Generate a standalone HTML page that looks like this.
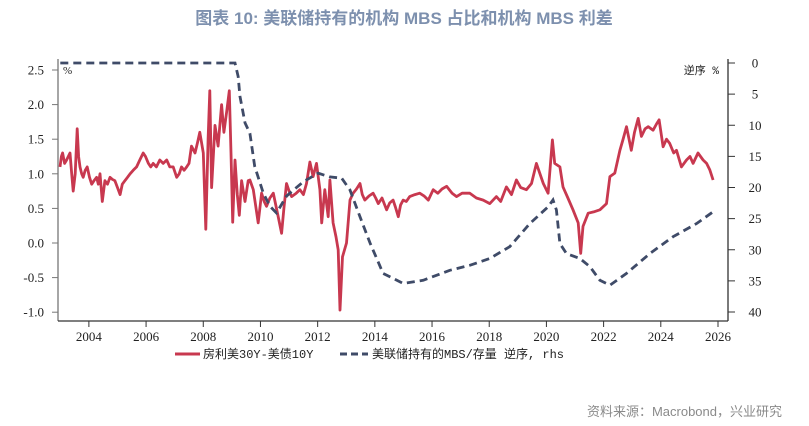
<!DOCTYPE html>
<html><head><meta charset="utf-8"><style>
body{margin:0;background:#fff;width:809px;height:426px;overflow:hidden;font-family:"Liberation Sans","Noto Sans CJK SC",sans-serif}
svg{display:block}
</style></head><body>
<svg id="c" width="809" height="426">
<text x="404" y="24" text-anchor="middle" font-size="17" font-weight="bold" fill="#7d90ae" font-family="Liberation Sans, Noto Sans CJK SC, sans-serif">图表 10: 美联储持有的机构 MBS 占比和机构 MBS 利差</text>
<text x="782" y="416" text-anchor="end" font-size="13" fill="#8a8a8a" font-family="Liberation Sans, Noto Sans CJK SC, sans-serif">资料来源：Macrobond，兴业研究</text>
<g id="axes"></g><g id="marks"></g>
<g font-family="Liberation Mono, Noto Sans CJK SC, monospace" font-size="12" fill="#222">
<line x1="175" y1="354" x2="200" y2="354" stroke="#c8384f" stroke-width="3"/>
<text x="203" y="358">房利美30Y-美债10Y</text>
<line x1="340" y1="354" x2="368" y2="354" stroke="#3f4b68" stroke-width="3" stroke-dasharray="7,4"/>
<text x="372" y="358">美联储持有的MBS/存量 逆序, rhs</text>
</g>
</svg>
<script>
const redYears=[2002.99,2003.04,2003.08,2003.15,2003.22,2003.28,2003.34,2003.40,2003.45,2003.52,2003.59,2003.64,2003.69,2003.75,2003.80,2003.87,2003.94,2004.02,2004.10,2004.18,2004.27,2004.33,2004.39,2004.47,2004.56,2004.65,2004.74,2004.82,2004.91,2005.00,2005.09,2005.17,2005.26,2005.35,2005.44,2005.55,2005.67,2005.78,2005.90,2005.98,2006.08,2006.16,2006.25,2006.36,2006.48,2006.60,2006.72,2006.83,2006.95,2007.07,2007.16,2007.24,2007.33,2007.42,2007.50,2007.59,2007.71,2007.80,2007.88,2008.00,2008.09,2008.17,2008.23,2008.29,2008.41,2008.52,2008.64,2008.72,2008.82,2008.91,2008.97,2009.03,2009.11,2009.19,2009.26,2009.34,2009.46,2009.57,
2009.63,2009.75,2009.92,2010.04,2010.13,2010.21,2010.33,2010.45,2010.62,2010.74,2010.82,2010.91,2011.00,2011.09,2011.25,2011.38,2011.50,2011.61,2011.73,2011.84,2011.96,2012.08,2012.14,2012.25,2012.37,2012.43,2012.54,2012.64,2012.72,2012.78,2012.87,2013.01,2013.13,2013.24,2013.36,2013.48,2013.56,2013.65,2013.80,2013.94,2014.03,2014.12,2014.25,2014.41,2014.52,2014.64,2014.72,2014.82,2014.90,2014.99,2015.10,2015.22,2015.40,2015.57,2015.72,2015.87,2016.04,2016.20,2016.35,2016.51,2016.70,2016.86,2017.05,2017.32,2017.55,2017.79,2018.02,2018.25,2018.40,
2018.60,2018.78,2018.95,2019.10,2019.30,2019.48,2019.65,2019.89,2020.06,2020.21,2020.29,2020.47,2020.58,2020.75,2020.93,2021.11,2021.20,2021.28,2021.46,2021.65,2021.87,2022.10,2022.22,2022.39,2022.57,2022.68,2022.80,2022.97,2023.08,2023.21,2023.32,2023.45,2023.56,2023.73,2023.85,2023.94,2024.08,2024.20,2024.31,2024.45,2024.55,2024.72,2024.90,2025.02,2025.13,2025.30,2025.48,2025.60,2025.71,2025.83];
const redValues=[1.1,1.25,1.3,1.15,1.2,1.25,1.3,1.0,0.75,1.0,1.65,1.25,1.1,1.0,0.95,1.05,1.1,0.95,0.85,0.9,0.95,0.85,1.0,0.6,0.9,0.85,0.95,0.92,0.9,0.8,0.7,0.85,0.9,0.95,1.0,1.05,1.1,1.2,1.3,1.25,1.15,1.1,1.15,1.1,1.2,1.15,1.2,1.1,1.1,0.95,1.0,1.1,1.05,1.1,1.15,1.4,1.3,1.45,1.6,1.3,0.2,1.5,2.2,0.8,1.7,1.4,2.0,1.6,1.9,2.2,1.3,0.3,1.2,0.7,0.4,0.9,0.6,0.9,
0.91,0.77,0.29,0.72,0.6,0.53,0.65,0.72,0.38,0.14,0.5,0.86,0.75,0.67,0.72,0.77,0.7,0.86,1.17,0.96,1.15,0.77,0.29,0.77,0.38,0.91,0.29,0.09,-0.10,-0.97,-0.20,0.0,0.62,0.72,0.78,0.86,0.7,0.62,0.68,0.72,0.65,0.57,0.65,0.48,0.58,0.62,0.52,0.38,0.55,0.62,0.6,0.67,0.7,0.72,0.68,0.62,0.77,0.72,0.78,0.82,0.72,0.67,0.72,0.72,0.65,0.62,0.57,0.67,0.6,
0.81,0.7,0.91,0.8,0.77,0.86,1.15,0.86,0.72,1.49,1.15,1.10,0.81,0.65,0.48,0.29,-0.15,0.24,0.43,0.45,0.48,0.57,0.96,1.01,1.34,1.5,1.68,1.34,1.6,1.80,1.54,1.65,1.68,1.63,1.72,1.78,1.39,1.5,1.44,1.3,1.34,1.10,1.20,1.25,1.15,1.30,1.20,1.15,1.06,0.91];
const blueYears=[2003.0,2009.11,2009.22,2009.28,2009.46,2009.63,2009.80,2010.10,2010.33,2010.56,2010.91,2011.03,2011.49,2012.02,2012.43,2012.84,2013.13,2013.48,2013.83,2014.29,2014.99,2015.69,2016.62,2017.32,2018.02,2018.72,2019.42,2020.06,2020.23,2020.35,2020.47,2020.70,2021.17,2021.52,2021.87,2022.22,2022.80,2023.62,2024.43,2025.25,2025.83];
const blueValues=[0,0,2.2,5.3,9.6,11.3,16.6,20.9,23.0,24.1,21.4,20.9,19.1,17.7,18.3,18.5,20.4,24.7,28.9,33.8,35.4,34.9,33.3,32.5,31.4,29.5,25.8,23.1,22.0,23.6,29.0,30.6,31.4,32.7,34.9,35.7,33.8,30.6,27.9,25.8,23.9];
const leftTicks=[2.5,2.0,1.5,1.0,0.5,0.0,-0.5,-1.0];
const leftTickLabels=["2.5","2.0","1.5","1.0","0.5","0.0","-0.5","-1.0"];
const rightTicks=[0,5,10,15,20,25,30,35,40];
const xTicks=[2004,2006,2008,2010,2012,2014,2016,2018,2020,2022,2024,2026];

const X0=58,X1=728,T0=2002.92,T1=2026.35;
const x=t=>X0+(t-T0)/(T1-T0)*(X1-X0);
const yL=v=>243-v*69.2;
const yR=v=>63+v*6.225;
const NS="http://www.w3.org/2000/svg";
const ax=document.getElementById('axes'),mk=document.getElementById('marks');
function el(tag,attrs,parent){const e=document.createElementNS(NS,tag);for(const k in attrs)e.setAttribute(k,attrs[k]);parent.appendChild(e);return e;}
const la=el('line',{x1:X0,y1:59,x2:X0,y2:321,stroke:'#777','stroke-width':1.3},ax);


const ra=el('line',{x1:X1,y1:59,x2:X1,y2:321,stroke:'#333','stroke-width':1.3},ax);


const xa=el('line',{x1:X0,y1:321,x2:X1,y2:321,stroke:'#333','stroke-width':1.3},ax);


leftTicks.forEach((v,i)=>{const y=yL(v);
el('line',{x1:X0-6,y1:y,x2:X0,y2:y,stroke:'#777'},ax);
const t=el('text',{x:44,y:y+4.5,'text-anchor':'end','font-size':13,'font-family':'Liberation Serif, serif',fill:'#222'},ax);t.textContent=leftTickLabels[i];

});
rightTicks.forEach(v=>{const y=yR(v);
el('line',{x1:X1,y1:y,x2:X1+7,y2:y,stroke:'#333'},ax);
const t=el('text',{x:755,y:y+4.5,'text-anchor':'middle','font-size':13,'font-family':'Liberation Serif, serif',fill:'#222'},ax);t.textContent=v;

});
xTicks.forEach(v=>{const xx=x(v);
el('line',{x1:xx,y1:321,x2:xx,y2:327,stroke:'#333'},ax);
const t=el('text',{x:xx,y:341,'text-anchor':'middle','font-size':13,'font-family':'Liberation Serif, serif',fill:'#222'},ax);t.textContent=v;

});
const u1=el('text',{x:63,y:74,'font-size':11,'font-family':'Liberation Serif, serif',fill:'#222'},ax);u1.textContent='%';


const u2=el('text',{x:719,y:74,'text-anchor':'end','font-size':11,'font-family':'Liberation Mono, Noto Sans CJK SC, monospace',fill:'#222'},ax);u2.textContent='逆序 %';


const rp=el('path',{d:redYears.map((t,i)=>(i?'L':'M')+x(t).toFixed(1)+','+yL(redValues[i]).toFixed(1)).join(''),fill:'none',stroke:'#c8384f','stroke-width':2.8,'stroke-linejoin':'round'},mk);


const bp=el('path',{d:blueYears.map((t,i)=>(i?'L':'M')+x(t).toFixed(1)+','+yR(blueValues[i]).toFixed(1)).join(''),fill:'none',stroke:'#3f4b68','stroke-width':2.8,'stroke-dasharray':'8,5'},mk);


</script>
</body></html>
